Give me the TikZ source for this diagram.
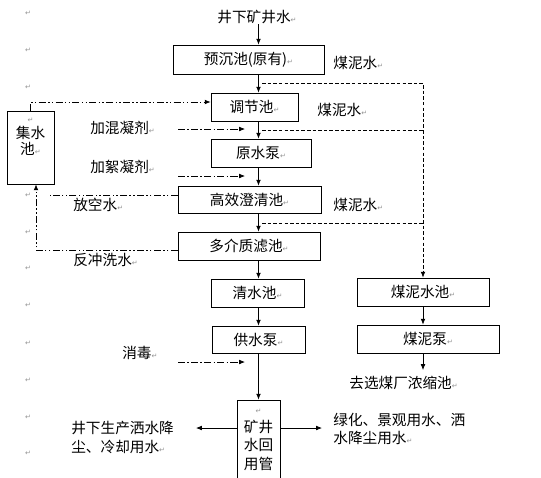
\documentclass[tikz,border=0pt]{standalone}
\usepackage{fontspec}
\setmainfont{Noto Sans CJK SC}
\newfontfamily\markfont{DejaVu Sans}
\usetikzlibrary{arrows.meta}
\newcommand\rmk{{\color{gray!85}\markfont\fontsize{6}{6}\selectfont ↵}}

\begin{document}
\begin{tikzpicture}[x=0.03cm, y=-0.03cm, >={Latex[length=5pt,width=4pt]}, line width=0.6pt,
  font=\fontsize{12.5}{16}\selectfont,
  box/.style={draw, rectangle, inner sep=0pt, minimum height=0.84cm},
  txt/.style={anchor=west, inner sep=0pt},
  mud/.style={dash pattern=on 3pt off 1.8pt},
  dose/.style={dash pattern=on 6pt off 2pt on 1.2pt off 2pt},
  back/.style={dash pattern=on 6pt off 2pt on 1.2pt off 2pt on 1.2pt off 2pt}]
\useasboundingbox (0,0) rectangle (541,477);
\coordinate (m) at (258.5,0);
% main line
\node[inner sep=0pt] (src) at (257,17) {井下矿井水\rmk};
\node[box, minimum width=4.53cm, minimum height=0.87cm] (pre) at (248.5,59.5) {预沉池(原有)\rmk};
\node[box, minimum width=2.61cm] (tj) at (254.5,107) {调节池\rmk};
\node[box, minimum width=3cm] (ys) at (261,153) {原水泵\rmk};
\node[box, minimum width=4.29cm, minimum height=0.81cm] (gx) at (249.5,199.5) {高效澄清池\rmk};
\node[box, minimum width=4.26cm] (dj) at (249,246) {多介质滤池\rmk};
\node[box, minimum width=2.79cm] (qs) at (257.5,293) {清水池\rmk};
\node[box, minimum width=2.79cm, minimum height=0.81cm] (gs) at (258.5,339.5) {供水泵\rmk};
\node[box, minimum width=1.29cm, minimum height=2.37cm] (hy) at (258.5,439.5) {};
\node[align=center, inner sep=0pt, font=\fontsize{12.5}{16}\selectfont] (hylbl) at (258.5,440) {\rmk\\矿井\\水回\\用管};
% slurry side
\node[box, minimum width=3.96cm] (mnc) at (423,292) {煤泥水池\rmk};
\node[box, minimum width=4.26cm] (mnb) at (428,339) {煤泥泵\rmk};
\node[txt] (xm) at (349,383) {去选煤厂浓缩池\rmk};
% sump
\node[box, minimum width=1.41cm, minimum height=2.19cm] (js) at (30.5,147.5) {};
\node[align=center, inner sep=0pt, font=\fontsize{12.5}{13.5}\selectfont] (jslbl) at (30.5,137) {\rmk\\集水\\池\rmk};
% labels
\node[txt] (mn1) at (333,63) {煤泥水\rmk};
\node[txt] (mn2) at (317,110) {煤泥水\rmk};
\node[txt] (mn3) at (333,205) {煤泥水\rmk};
\node[txt] (hn) at (90,128) {加混凝剂\rmk};
\node[txt] (xn) at (90,167) {加絮凝剂\rmk};
\node[txt] (fk) at (73,205) {放空水\rmk};
\node[txt] (fc) at (73,260) {反冲洗水\rmk};
\node[txt] (xd) at (122,353) {消毒\rmk};
\node[txt, align=left] (use1) at (71,437.5) {井下生产洒水降\\尘、冷却用水\rmk};
\node[txt, align=left] (use2) at (333,429) {绿化、景观用水、洒\\水降尘用水\rmk};
\foreach \y [count=\i] in {13,50,87,195,232,268,305,343,380,417,453}
  \node (pm\i) at (28,\y) {\rmk};

\draw[->] (src.south -| m) -- (pre.north -| m);
\draw[->] (pre.south -| m) -- (tj.north -| m);
\draw[->] (tj.south -| m) -- (ys.north -| m);
\draw[->] (ys.south -| m) -- (gx.north -| m);
\draw[->] (gx.south -| m) -- (dj.north -| m);
\draw[->] (dj.south -| m) -- (qs.north -| m);
\draw[->] (qs.south -| m) -- (gs.north -| m);
\draw[->] (gs.south -| m) -- (hy.north -| m);
\coordinate (uL) at (196,428);
\coordinate (uR) at (322,428);
\draw[->] (hy.west |- uL) -- (uL);
\draw[->] (hy.east |- uR) -- (uR);
\draw[->] (mnc.south) -- (mnc.south |- mnb.north);
\draw[->] (mnb.south -| mnc.south) -- ([yshift=5pt]xm.north -| mnc.south);

% slurry water
\coordinate (d1) at (262,83);
\coordinate (d2) at (262,130);
\coordinate (d3) at (262,223);
\draw[mud,->] (d1) -| (mnc.north);
\draw[mud] (d2) -- (d2 -| mnc.north);
\draw[mud] (d3) -- (d3 -| mnc.north);

% dosing
\coordinate (h0) at (178,129);
\coordinate (h1) at (245,129);
\coordinate (x0) at (178,176);
\coordinate (x1) at (245,176);
\coordinate (s0) at (178,362);
\coordinate (s1) at (245,362);
\draw[dose,->] (h0) -- (h1);
\draw[dose,->] (x0) -- (x1);
\draw[dose,->] (s0) -- (s1);

% return water
\coordinate (k1) at (50,0);
\draw[back,->] (js.north) |- ([yshift=0.15cm]tj.west);
\draw[back] ([yshift=0.135cm]gx.west) -- ([yshift=0.135cm]gx.west -| k1);
\draw[back,->] ([yshift=-0.12cm]dj.west) -| ([xshift=0.165cm]js.south);
\end{tikzpicture}
\end{document}
